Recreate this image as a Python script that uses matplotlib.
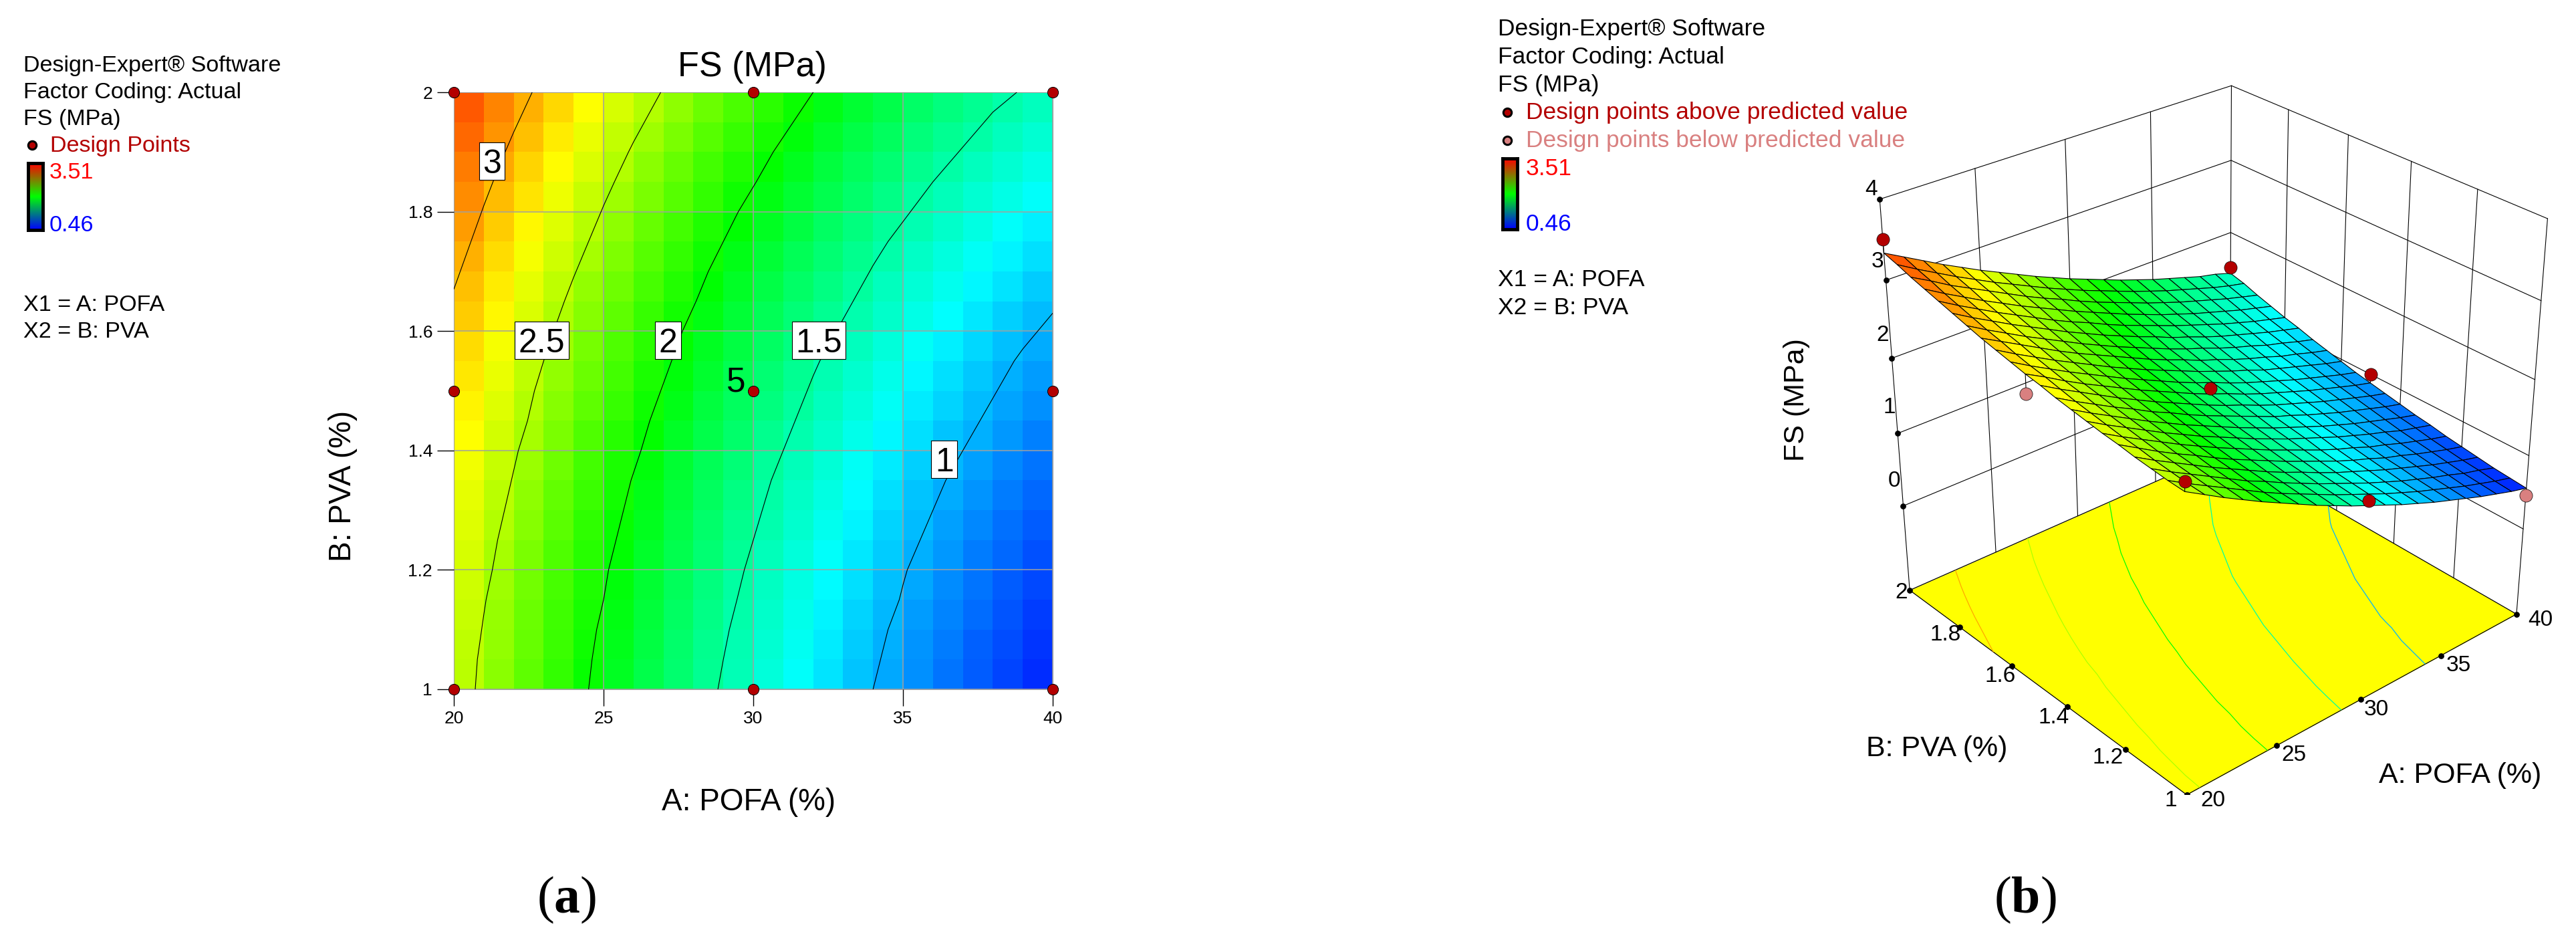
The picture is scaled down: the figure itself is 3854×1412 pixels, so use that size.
"""Response surface for FS (MPa): (a) contour plot, (b) 3D surface."""
import numpy as np
import matplotlib
matplotlib.use("Agg")
import matplotlib.pyplot as plt
from matplotlib.colors import LinearSegmentedColormap, Normalize
from matplotlib.patches import Rectangle

plt.rcParams["font.family"] = ["Liberation Sans", "DejaVu Sans"]
plt.rcParams["mathtext.fontset"] = "custom"
plt.rcParams["mathtext.rm"] = "Liberation Serif"
plt.rcParams["mathtext.bf"] = "Liberation Serif:bold"

W, H = 3855, 1412

POFA = np.arange(20, 41, 1)
PVA = np.arange(1.0, 2.01, 0.05)

# FS, rows go from PVA = 1 up to PVA = 2
FS_GRID = np.array([
    [2.60, 2.46, 2.32, 2.19, 2.06, 1.94, 1.82, 1.70, 1.59, 1.48, 1.38, 1.28, 1.18, 1.09, 1.00, 0.92, 0.84, 0.76, 0.69, 0.62, 0.56],
    [2.61, 2.47, 2.34, 2.21, 2.08, 1.95, 1.83, 1.72, 1.61, 1.50, 1.40, 1.30, 1.20, 1.11, 1.02, 0.94, 0.86, 0.78, 0.71, 0.64, 0.58],
    [2.63, 2.49, 2.36, 2.23, 2.10, 1.97, 1.86, 1.74, 1.63, 1.52, 1.42, 1.32, 1.22, 1.13, 1.04, 0.96, 0.88, 0.81, 0.73, 0.67, 0.60],
    [2.65, 2.51, 2.38, 2.25, 2.12, 2.00, 1.88, 1.76, 1.65, 1.55, 1.44, 1.34, 1.25, 1.16, 1.07, 0.99, 0.91, 0.83, 0.76, 0.69, 0.63],
    [2.68, 2.54, 2.40, 2.27, 2.15, 2.02, 1.90, 1.79, 1.68, 1.57, 1.47, 1.37, 1.27, 1.18, 1.10, 1.01, 0.94, 0.86, 0.79, 0.72, 0.66],
    [2.70, 2.56, 2.43, 2.30, 2.17, 2.05, 1.93, 1.82, 1.71, 1.60, 1.50, 1.40, 1.30, 1.21, 1.13, 1.04, 0.97, 0.89, 0.82, 0.75, 0.69],
    [2.73, 2.59, 2.46, 2.33, 2.20, 2.08, 1.96, 1.85, 1.74, 1.63, 1.53, 1.43, 1.34, 1.25, 1.16, 1.08, 1.00, 0.93, 0.85, 0.79, 0.73],
    [2.76, 2.62, 2.49, 2.36, 2.23, 2.11, 1.99, 1.88, 1.77, 1.66, 1.56, 1.46, 1.37, 1.28, 1.19, 1.11, 1.03, 0.96, 0.89, 0.82, 0.76],
    [2.79, 2.65, 2.52, 2.39, 2.27, 2.14, 2.03, 1.91, 1.80, 1.70, 1.60, 1.50, 1.40, 1.32, 1.23, 1.15, 1.07, 1.00, 0.93, 0.86, 0.80],
    [2.83, 2.69, 2.56, 2.43, 2.30, 2.18, 2.06, 1.95, 1.84, 1.73, 1.63, 1.54, 1.44, 1.35, 1.27, 1.19, 1.11, 1.04, 0.97, 0.90, 0.84],
    [2.86, 2.73, 2.59, 2.46, 2.34, 2.22, 2.10, 1.99, 1.88, 1.77, 1.67, 1.58, 1.48, 1.39, 1.31, 1.23, 1.15, 1.08, 1.01, 0.94, 0.88],
    [2.90, 2.76, 2.63, 2.50, 2.38, 2.26, 2.14, 2.03, 1.92, 1.81, 1.71, 1.62, 1.52, 1.43, 1.35, 1.27, 1.19, 1.12, 1.05, 0.98, 0.92],
    [2.94, 2.80, 2.67, 2.54, 2.42, 2.30, 2.18, 2.07, 1.96, 1.86, 1.76, 1.66, 1.57, 1.48, 1.40, 1.31, 1.24, 1.17, 1.10, 1.03, 0.97],
    [2.98, 2.85, 2.72, 2.59, 2.46, 2.34, 2.23, 2.12, 2.01, 1.90, 1.80, 1.71, 1.61, 1.53, 1.44, 1.36, 1.29, 1.21, 1.15, 1.08, 1.02],
    [3.03, 2.89, 2.76, 2.63, 2.51, 2.39, 2.27, 2.16, 2.05, 1.95, 1.85, 1.75, 1.66, 1.58, 1.49, 1.41, 1.34, 1.26, 1.20, 1.13, 1.07],
    [3.08, 2.94, 2.81, 2.68, 2.56, 2.44, 2.32, 2.21, 2.10, 2.00, 1.90, 1.81, 1.71, 1.63, 1.54, 1.46, 1.39, 1.32, 1.25, 1.19, 1.13],
    [3.13, 2.99, 2.86, 2.73, 2.61, 2.49, 2.37, 2.26, 2.16, 2.05, 1.95, 1.86, 1.77, 1.68, 1.60, 1.52, 1.44, 1.37, 1.30, 1.24, 1.18],
    [3.18, 3.04, 2.91, 2.78, 2.66, 2.54, 2.43, 2.32, 2.21, 2.11, 2.01, 1.91, 1.82, 1.73, 1.65, 1.57, 1.50, 1.43, 1.36, 1.30, 1.24],
    [3.23, 3.10, 2.96, 2.84, 2.72, 2.60, 2.48, 2.37, 2.27, 2.16, 2.06, 1.97, 1.88, 1.79, 1.71, 1.63, 1.56, 1.49, 1.42, 1.36, 1.30],
    [3.29, 3.15, 3.02, 2.89, 2.77, 2.65, 2.54, 2.43, 2.32, 2.22, 2.12, 2.03, 1.94, 1.85, 1.77, 1.69, 1.62, 1.55, 1.48, 1.42, 1.37],
    [3.34, 3.21, 3.08, 2.95, 2.83, 2.71, 2.60, 2.49, 2.38, 2.28, 2.18, 2.09, 2.00, 1.91, 1.83, 1.75, 1.68, 1.61, 1.54, 1.49, 1.42],
])

DESIGN_A = [20, 30, 40, 20, 30, 40, 20, 30, 40]
DESIGN_B = [1, 1, 1, 1.5, 1.5, 1.5, 2, 2, 2]
DESIGN_FS = [2.72, 1.44, 0.46, 2.62, 1.74, 1.00, 3.51, 2.05, 1.50]

LEVELS = [1, 1.5, 2, 2.5, 3]
A_TICKS = [20, 25, 30, 35, 40]
B_TICKS = [1, 1.2, 1.4, 1.6, 1.8, 2]
B_LABELS = ["1", "1.2", "1.4", "1.6", "1.8", "2"]
Z_TICKS = [0, 1, 2, 3, 4]

# contour label: text, POFA, PVA, box width and height in pixels
LEVEL_LABELS = [
    ("3", 21.27, 1.885, 38, 56),
    ("2.5", 22.93, 1.585, 81, 56),
    ("2", 27.15, 1.585, 39, 56),
    ("1.5", 32.18, 1.585, 80, 56),
    ("1", 36.38, 1.385, 39, 56),
]

FS_MIN, FS_MAX = 0.46, 3.51
FLOOR = -1.21
DARK_RED = "#B30000"
PINK = "#D98080"

RAINBOW = LinearSegmentedColormap.from_list(
    "de_rainbow", ["#0000FF", "#00FFFF", "#00FF00", "#FFFF00", "#FF0000"])
LEGEND_MAP = LinearSegmentedColormap.from_list("de_legend", ["#0000FF", "#00FF00", "#FF0000"])
NORM = Normalize(FS_MIN, FS_MAX)


def label(fig, x, y, s, size=24.6, color="black", **kw):
    """Text placed by reference pixels."""
    kw.setdefault("va", "baseline")
    return fig.text(x / W, 1 - y / H, s, fontsize=size, color=color, **kw)


def add_axes_px(fig, left, top, right, bottom, **kw):
    return fig.add_axes([left / W, 1 - bottom / H, (right - left) / W, (bottom - top) / H], **kw)


def legend_bar(fig, left, top, right, bottom):
    cax = add_axes_px(fig, left, top, right, bottom)
    gradient = np.linspace(1, 0, 128)[:, None]
    cax.imshow(gradient, cmap=LEGEND_MAP, aspect="auto")
    cax.set_xticks([])
    cax.set_yticks([])
    for sp in cax.spines.values():
        sp.set_linewidth(3.5)


def legend_dot(fig, x, y, color):
    ax = fig.add_axes([0, 0, 1, 1], facecolor="none", zorder=10)
    ax.set_xlim(0, W)
    ax.set_ylim(H, 0)
    ax.axis("off")
    ax.scatter([x], [y], s=80, color=color, edgecolor="black", linewidth=2.2)


def contour_panel(fig):
    ax = add_axes_px(fig, 679, 138, 1575, 1031)
    cell_x = np.arange(20, 41)
    cell_y = np.linspace(1, 2, 21)
    cells = (FS_GRID[:-1, :-1] + FS_GRID[1:, :-1] + FS_GRID[:-1, 1:] + FS_GRID[1:, 1:]) / 4
    ax.pcolormesh(cell_x, cell_y, cells, cmap=RAINBOW, norm=NORM, shading="flat", zorder=1)
    ax.contour(POFA, PVA, FS_GRID, levels=LEVELS, colors="black", linewidths=0.8, zorder=3)
    ax.set_xlim(20, 40)
    ax.set_ylim(1, 2)
    ax.set_xticks(A_TICKS)
    ax.set_yticks(B_TICKS, B_LABELS)
    ax.tick_params(labelsize=19, length=18, width=1, pad=5)
    ax.grid(True, color="#A0A0A0", linewidth=1.1, zorder=2)
    ax.set_axisbelow(False)
    for sp in ax.spines.values():
        sp.set_color("#A0A0A0")

    per_x, per_y = 20 / 896, 1 / 893
    for txt, x, y, bw, bh in LEVEL_LABELS:
        ax.add_patch(Rectangle((x - bw * per_x / 2, y - bh * per_y / 2), bw * per_x, bh * per_y,
                               facecolor="white", edgecolor="black", linewidth=0.8, zorder=5))
        ax.text(x, y, txt, fontsize=36, ha="center", va="center_baseline", zorder=6)
    ax.text(29.42, 1.52, "5", fontsize=37, ha="center", va="center_baseline", zorder=6)

    ax.scatter(DESIGN_A, DESIGN_B, s=135, color=DARK_RED, edgecolor="black", linewidth=0.7,
               clip_on=False, zorder=7)

    label(fig, 1125, 114, "FS (MPa)", size=37.5, ha="center")
    label(fig, 1120, 1212, "A: POFA (%)", size=33, ha="center")
    label(fig, 513, 727, "B: PVA (%)", size=33, ha="center", va="center", rotation=90)
    label(fig, 848, 1365, r"$(\mathbf{a})$", size=56, ha="center")

    # side legend
    for y, s in zip([107, 147, 187], ["Design-Expert® Software", "Factor Coding: Actual", "FS (MPa)"]):
        label(fig, 35, y, s)
    label(fig, 75, 227, "Design Points", color=DARK_RED)
    legend_dot(fig, 48, 217, DARK_RED)
    legend_bar(fig, 42, 244, 64, 344)
    label(fig, 74, 267, "3.51", color="#FF0000")
    label(fig, 74, 346, "0.46", color="#0000FF")
    label(fig, 35, 465, "X1 = A: POFA")
    label(fig, 35, 505, "X2 = B: PVA")


def surface_panel(fig):
    ax = add_axes_px(fig, 2740, 83, 3845, 1188, projection="3d", computed_zorder=False,
                     facecolor="none")
    ax.set_proj_type("persp", focal_length=0.58)
    ax.view_init(elev=29.5, azim=-131)
    ax.set_box_aspect((1, 1, 1.0), zoom=1.026)
    ax.set_xlim(20, 40, view_margin=0)
    ax.set_ylim(1, 2, view_margin=0)
    ax.set_zlim(FLOOR, 4, view_margin=0)
    ax.set_axis_off()

    line = dict(color="black", linewidth=0.8, zorder=1)
    for z in Z_TICKS:
        ax.plot([20, 40, 40], [2, 2, 1], [z, z, z], **line)
    for a in A_TICKS:
        ax.plot([a, a], [2, 2], [FLOOR, 4], **line)
    for b in B_TICKS[:-1]:
        ax.plot([40, 40], [b, b], [FLOOR, 4], **line)

    X, Y = np.meshgrid(POFA, PVA)
    ax.plot_surface(X, Y, np.full_like(FS_GRID, FLOOR), color="#FFFF00", shade=False,
                    rstride=20, cstride=20, edgecolor="#FFFF00", linewidth=0, zorder=2)
    ax.plot([20, 40, 40, 20, 20], [1, 1, 2, 2, 1], [FLOOR] * 5, color="black", linewidth=0.9, zorder=3)
    ax.contour(X, Y, FS_GRID, levels=LEVELS, zdir="z", offset=FLOOR, cmap=RAINBOW, norm=NORM,
               linewidths=0.9, zorder=3)

    # design points under the surface go first so the surface covers them
    surf_at = [FS_GRID[round((b - 1) * 20), a - 20] for a, b in zip(DESIGN_A, DESIGN_B)]
    for a, b, z, s in zip(DESIGN_A, DESIGN_B, DESIGN_FS, surf_at):
        if z < s:
            ax.plot([a, a], [b, b], [z, s], color="black", linewidth=0.8, zorder=4)
            ax.scatter([a], [b], [z], s=190, color=PINK, edgecolor="black", linewidth=0.5,
                       depthshade=False, zorder=4)

    cells = (FS_GRID[:-1, :-1] + FS_GRID[1:, :-1] + FS_GRID[:-1, 1:] + FS_GRID[1:, 1:]) / 4
    ax.plot_surface(X, Y, FS_GRID, facecolors=RAINBOW(NORM(cells)), rstride=1, cstride=1,
                    edgecolor="black", linewidth=0.8, shade=False, zorder=5)

    for a, b, z, s in zip(DESIGN_A, DESIGN_B, DESIGN_FS, surf_at):
        if z >= s:
            ax.plot([a, a], [b, b], [s, z], color="black", linewidth=0.8, zorder=6)
            ax.scatter([a], [b], [z], s=190, color=DARK_RED, edgecolor="black", linewidth=0.5,
                       depthshade=False, zorder=7)

    dots = dict(color="black", s=28, depthshade=False, zorder=8)
    ax.scatter([20] * 5, [2] * 5, Z_TICKS, **dots)
    ax.scatter(A_TICKS, [1] * 5, [FLOOR] * 5, **dots)
    ax.scatter([20] * 6, B_TICKS, [FLOOR] * 6, **dots)

    tick_font = dict(size=24, ha="center", va="center")
    for s, x, y in [("4", 2800, 283), ("3", 2809, 392), ("2", 2817, 502), ("1", 2827, 610), ("0", 2834, 719),
                    ("2", 2845, 887), ("1.8", 2911, 949), ("1.6", 2993, 1011), ("1.4", 3073, 1073),
                    ("1.2", 3154, 1134), ("1", 3248, 1197), ("20", 3311, 1197), ("25", 3432, 1129),
                    ("30", 3555, 1062), ("35", 3678, 995), ("40", 3801, 928)]:
        label(fig, x, y, s, **tick_font)

    label(fig, 2688, 598, "FS (MPa)", size=31, ha="center", va="center", rotation=90)
    label(fig, 2898, 1120, "B: PVA (%)", size=31, ha="center", va="center")
    label(fig, 3681, 1160, "A: POFA (%)", size=31, ha="center", va="center")
    label(fig, 3030, 1365, r"$(\mathbf{b})$", size=56, ha="center")

    # side legend
    for y, s in zip([53, 95, 137], ["Design-Expert® Software", "Factor Coding: Actual", "FS (MPa)"]):
        label(fig, 2241, y, s, size=25.5)
    label(fig, 2283, 178, "Design points above predicted value", size=25.5, color=DARK_RED)
    label(fig, 2283, 220, "Design points below predicted value", size=25.5, color=PINK)
    legend_dot(fig, 2255, 168, DARK_RED)
    legend_dot(fig, 2255, 210, PINK)
    legend_bar(fig, 2248, 237, 2270, 343)
    label(fig, 2283, 262, "3.51", color="#FF0000", size=25.5)
    label(fig, 2283, 345, "0.46", color="#0000FF", size=25.5)
    label(fig, 2241, 428, "X1 = A: POFA", size=25.5)
    label(fig, 2241, 470, "X2 = B: PVA", size=25.5)


def main():
    fig = plt.figure(figsize=(W / 100, H / 100), dpi=100)
    surface_panel(fig)
    contour_panel(fig)
    fig.savefig("out.png", dpi=100)


if __name__ == "__main__":
    main()
